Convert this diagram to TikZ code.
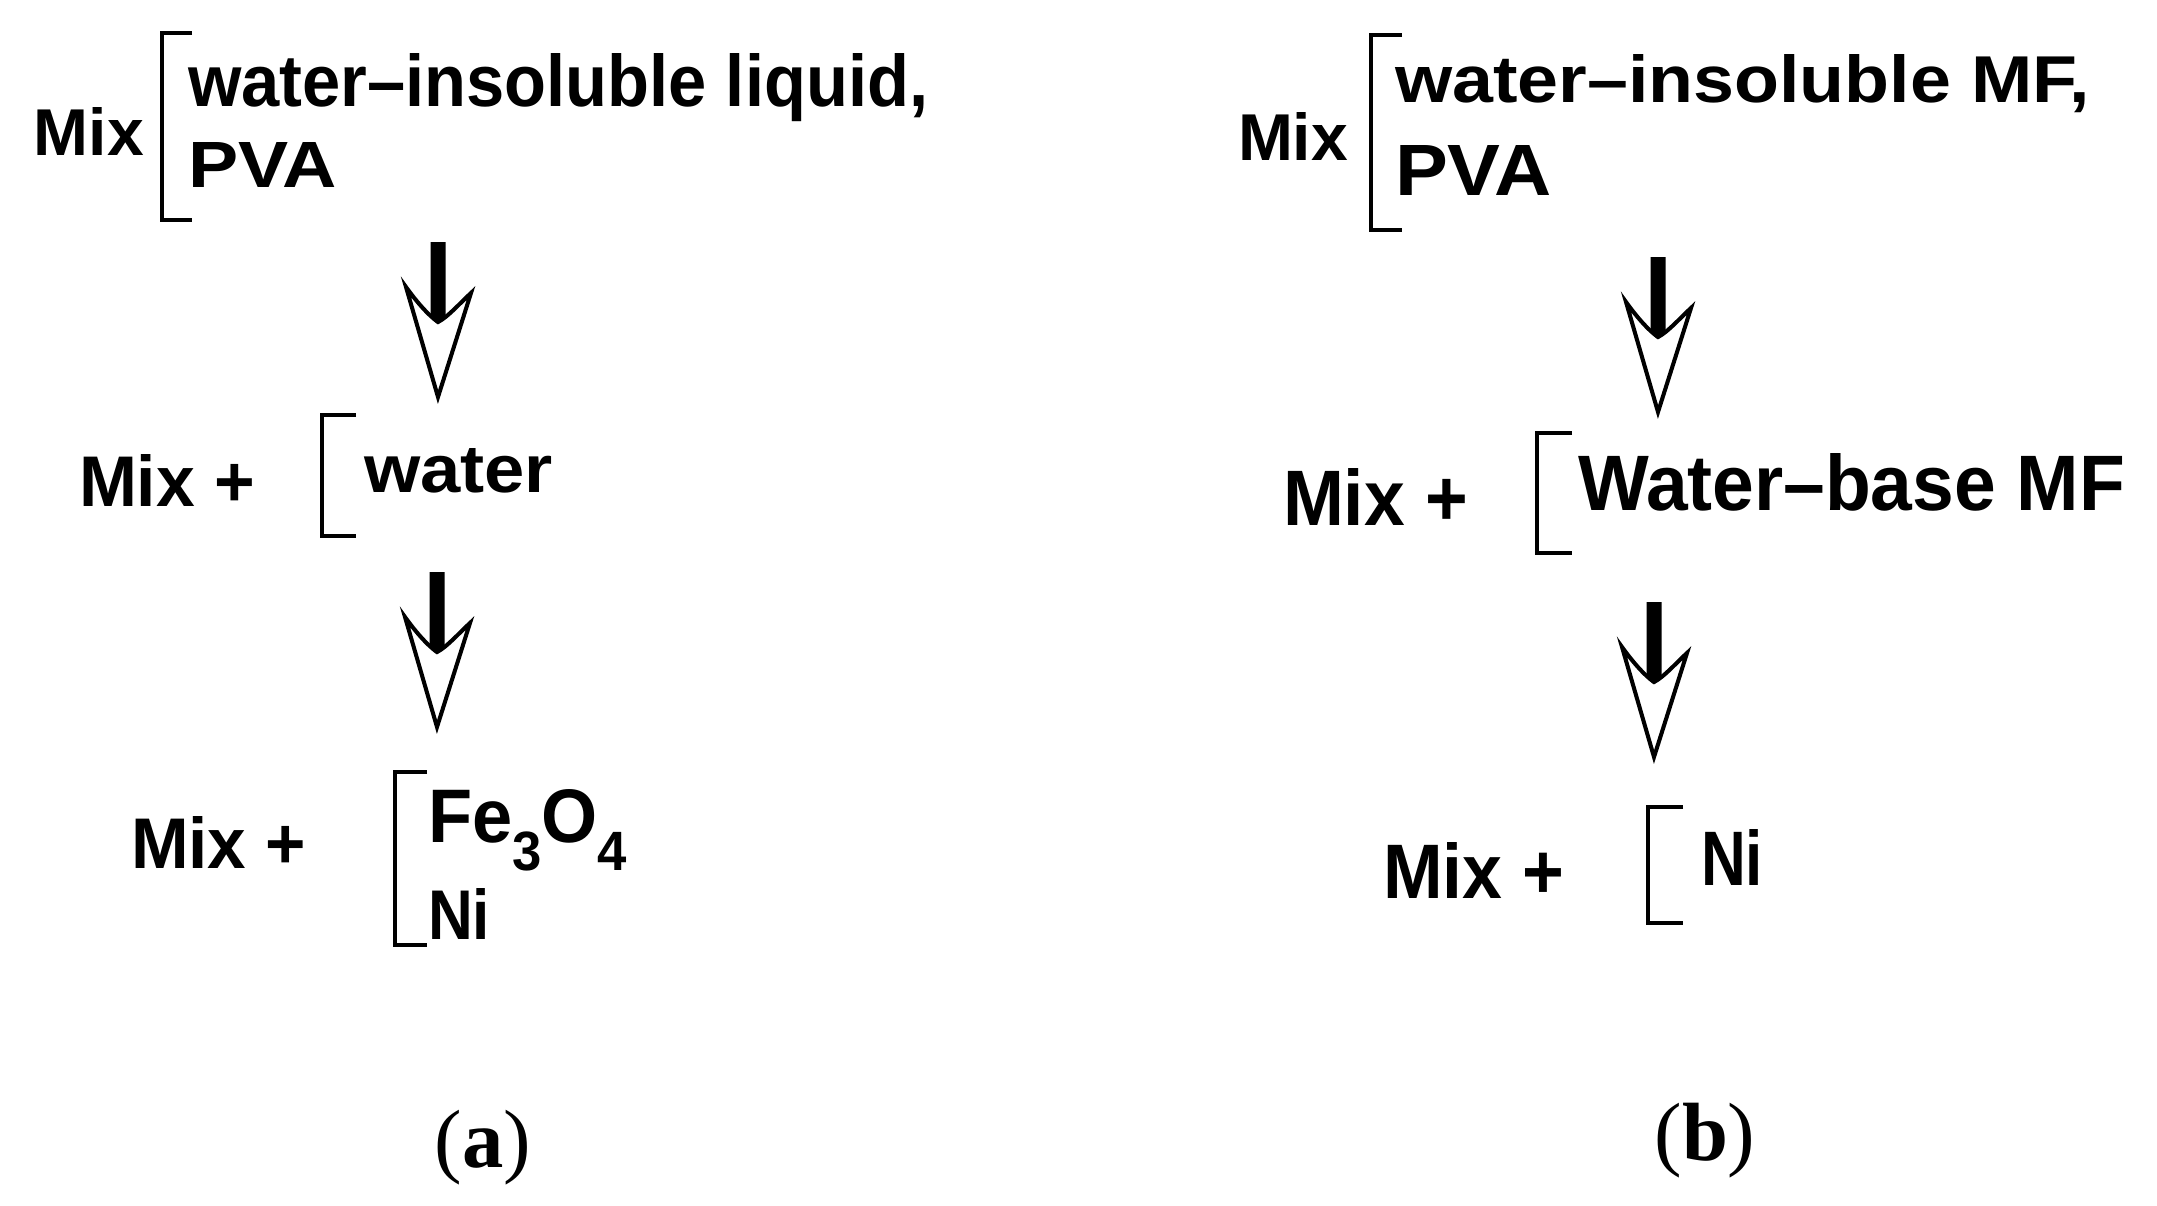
\documentclass[tikz,border=0pt]{standalone}
\usepackage{fontspec}
\setmainfont{Liberation Sans}
\newfontfamily\lblfont{Liberation Serif}
\usepackage{graphicx}
\newdimen\pxu \pxu=0.01cm
\newcommand\fitt[3]{\resizebox{#1\pxu}{#2\pxu}{\bfseries #3}}
\newcommand\subd[1]{\raisebox{-0.37em}{\scalebox{0.73}{#1}}}
\tikzset{
  txt/.style={inner sep=0pt, outer sep=0pt, anchor=base west},
  brk/.style={line width=1pt, line cap=butt, line join=miter},
  lbl/.style={inner sep=0pt, anchor=base, font=\lblfont\fontsize{23.5}{28}\selectfont},
  pics/dnarrow/.style={code={
    \filldraw[fill=white, draw=black, line width=1.15pt, line join=miter, miter limit=20]
      (-32,-110) -- (0,0) -- (33,-104)
      .. controls (22,-94) and (10,-80) .. (0,-75)
      .. controls (-10,-82) and (-22,-96) .. (-32,-110) -- cycle;
    \fill[black] (-7.5,-155) -- (7.5,-155) -- (7.5,-80) .. controls (5,-76) and (2,-74) .. (0,-73)
      .. controls (-2,-74) and (-5,-76) .. (-7.5,-80) -- cycle;
  }}
}
\begin{document}
\begin{tikzpicture}[x=0.01cm, y=-0.01cm]
\useasboundingbox (0,0) rectangle (2157,1206);

% ---------------- panel (a) ----------------
\node[txt] (ta1) at (34,155) {\fitt{110}{48}{Mix}};
\draw[brk] (192,33) -- (162,33) -- (162,220) -- (192,220);
\node[txt] (ta2) at (188,106) {\fitt{740}{53}{water–insoluble liquid,}};
\node[txt] (ta3) at (188,187) {\fitt{149}{45}{PVA}};

\coordinate (aa1) at (438,397);
\pic at (aa1) {dnarrow};

\node[txt] (ma1) at (79,506) {\fitt{176}{52}{Mix +}};
\draw[brk] (356,415) -- (322,415) -- (322,536) -- (356,536);
\node[txt] (ma2) at (364,492) {\fitt{189}{44}{water}};

\coordinate (aa2) at (437,727);
\pic at (aa2) {dnarrow};

\node[txt] (ba1) at (131,868) {\fitt{175}{52}{Mix +}};
\draw[brk] (427,772) -- (395,772) -- (395,945) -- (427,945);
\node[txt] (ba2) at (428,842) {\fitt{199}{53}{Fe\subd{3}O\subd{4}}};
\node[txt] (ba3) at (428,939) {\fitt{62}{51}{Ni}};

\node[lbl] (la) at (483,1167) {(\textbf{a})};

% ---------------- panel (b) ----------------
\node[txt] (tb1) at (1238,160) {\fitt{110}{48}{Mix}};
\draw[brk] (1402,35) -- (1371,35) -- (1371,230) -- (1402,230);
\node[txt] (tb2) at (1395,102) {\fitt{695}{48}{water–insoluble MF,}};
\node[txt] (tb3) at (1395,195) {\fitt{157}{50}{PVA}};

\coordinate (ab1) at (1658,412);
\pic at (ab1) {dnarrow};

\node[txt] (mb1) at (1283,525) {\fitt{185}{57}{Mix +}};
\draw[brk] (1572,433) -- (1537,433) -- (1537,553) -- (1572,553);
\node[txt] (mb2) at (1578,510) {\fitt{547}{57}{Water–base MF}};

\coordinate (ab2) at (1654,757);
\pic at (ab2) {dnarrow};

\node[txt] (bb1) at (1383,898) {\fitt{181}{56}{Mix +}};
\draw[brk] (1683,807) -- (1648,807) -- (1648,923) -- (1683,923);
\node[txt] (bb2) at (1701,885) {\fitt{62}{56}{Ni}};

\node[lbl] (lb) at (1705,1160) {(\textbf{b})};
\end{tikzpicture}
\end{document}
